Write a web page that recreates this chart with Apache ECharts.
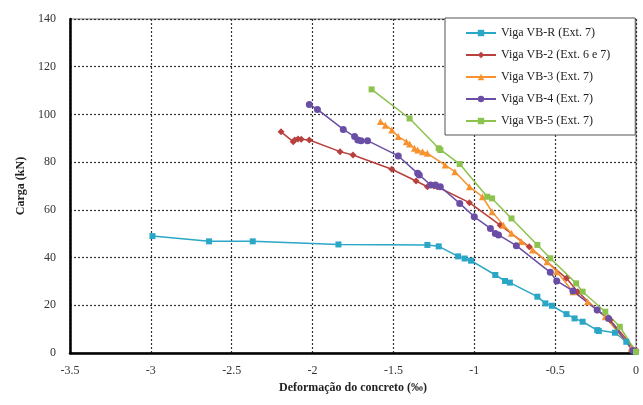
<!DOCTYPE html>
<html><head><meta charset="utf-8">
<script src="https://cdn.jsdelivr.net/npm/echarts@6/dist/echarts.min.js"></script>
<style>html,body{margin:0;padding:0;background:#fff}#c{width:643px;height:405px}</style>
</head><body><div id="c"></div>
<script>
const seriesNames = ['Viga VB-R (Ext. 7)','Viga VB-2 (Ext. 6 e 7)','Viga VB-3 (Ext. 7)','Viga VB-4 (Ext. 7)','Viga VB-5 (Ext. 7)'];
const xTicks = [-3.5,-3,-2.5,-2,-1.5,-1,-0.5,0];
const yTicks = [0,20,40,60,80,100,120,140];

const vbR_x = [-2.99,-2.64,-2.37,-1.84,-1.29,-1.22,-1.10,-1.06,-1.02,-0.87,-0.81,-0.78,-0.61,-0.56,-0.52,-0.43,-0.38,-0.33,-0.24,-0.23,-0.13,-0.06,0];
const vbR_y = [49,46.8,46.8,45.5,45.3,44.7,40.5,39.6,38.7,32.7,30.2,29.5,23.6,20.8,19.8,16.3,14.5,13.1,9.6,9.2,8.5,4.7,0.5];

const vb2_x = [-2.195,-2.12,-2.11,-2.09,-2.07,-2.02,-1.83,-1.75,-1.51,-1.36,-1.29,-1.25,-1.23,-1.03,-0.84,-0.66,-0.43,-0.36,-0.24,-0.16,0];
const vb2_y = [92.7,88.6,89.3,89.7,89.6,89.3,84.4,83,77,72.1,69.7,70,69.7,63,53.6,44.5,31.3,25.7,18,13.8,1];

const vb3_x = [-1.58,-1.55,-1.51,-1.47,-1.42,-1.40,-1.37,-1.35,-1.32,-1.29,-1.18,-1.12,-1.03,-0.95,-0.89,-0.82,-0.77,-0.71,-0.64,-0.55,-0.49,-0.39,-0.30,-0.19,-0.03];
const vb3_y = [97,95.5,93.5,90.7,88.6,87.6,85.8,85.1,84.4,83.7,78.8,76,69.7,65.5,59.2,53.6,50.2,46.7,43.2,38.3,34.1,25.7,21.5,15.2,2];

const vb4_x = [-2.02,-1.97,-1.81,-1.74,-1.72,-1.70,-1.66,-1.47,-1.35,-1.34,-1.27,-1.24,-1.21,-1.09,-1.00,-0.90,-0.87,-0.85,-0.74,-0.53,-0.49,-0.39,-0.24,-0.17,-0.02];
const vb4_y = [104.2,102.1,93.7,90.7,89.3,89,89,82.6,75.3,74.6,70.4,70.4,69.7,62.7,57.1,52.2,50.1,49.5,45,33.8,30.2,26,18,14.5,1];

const vb5_x = [-1.635,-1.40,-1.22,-1.21,-1.09,-0.92,-0.89,-0.77,-0.61,-0.53,-0.37,-0.33,-0.19,-0.10,0];
const vb5_y = [110.5,98.3,85.8,85.1,79.2,65.5,64.8,56.4,45.3,39.7,29.2,25.7,17.3,11,0.5];

const colors = ['#2aa6c6','#b8403e','#f7922f','#6a4ea6','#8cc34f'];
const symbols = ['rect','diamond','triangle','circle','rect'];
const sizes = [6,7,7,7,6];
const xs = [vbR_x,vb2_x,vb3_x,vb4_x,vb5_x];
const ys = [vbR_y,vb2_y,vb3_y,vb4_y,vb5_y];

const font = 'Liberation Serif';
const chart = echarts.init(document.getElementById('c'));
chart.setOption({
  animation:false,
  backgroundColor:'#fff',
  grid:{left:70,right:7,top:19,bottom:52,show:true,borderColor:'#777',borderWidth:1},
  legend:{
    data:seriesNames, orient:'vertical', left:445, top:18, width:190, height:115,
    padding:[9,25,8,20], itemGap:10, itemWidth:30, itemHeight:8,
    backgroundColor:'#fff', borderColor:'#555', borderWidth:1,
    textStyle:{fontFamily:font,fontSize:12,color:'#222'}
  },
  xAxis:{
    type:'value', min:-3.5, max:0, interval:0.5,
    name:'Deformação do concreto (‰)', nameLocation:'middle', nameGap:28,
    nameTextStyle:{fontFamily:font,fontSize:12,fontWeight:'bold',color:'#222'},
    axisLine:{onZero:false,lineStyle:{color:'#000',width:2.5}},
    axisTick:{show:false},
    axisLabel:{fontFamily:font,fontSize:12,color:'#333',margin:12,formatter:v=>String(v)},
    splitLine:{show:true,lineStyle:{color:'#333',type:[2,2],width:1.2}}
  },
  yAxis:{
    type:'value', min:0, max:140, interval:20,
    name:'Carga (kN)', nameLocation:'middle', nameGap:40, nameRotate:90,
    nameTextStyle:{fontFamily:font,fontSize:12,fontWeight:'bold',color:'#222'},
    axisLine:{show:true,onZero:false,lineStyle:{color:'#000',width:2.5}},
    axisTick:{show:false},
    axisLabel:{fontFamily:font,fontSize:12,color:'#333',margin:14},
    splitLine:{show:true,lineStyle:{color:'#333',type:[2,2],width:1.2}}
  },
  series: seriesNames.map((n,i)=>({
    name:n, type:'line', data:xs[i].map((x,j)=>[x,ys[i][j]]),
    symbol:symbols[i], symbolSize:sizes[i], showAllSymbol:true,
    itemStyle:{color:colors[i]}, lineStyle:{color:colors[i],width:1.5}
  }))
});
</script></body></html>
